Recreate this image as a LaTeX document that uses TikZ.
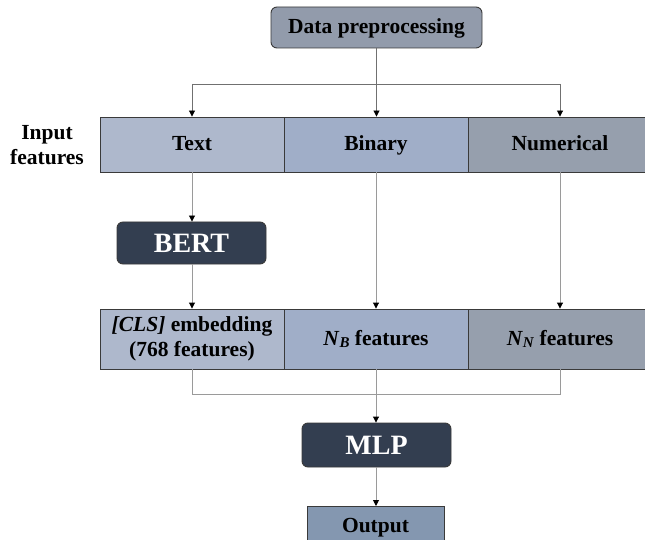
\documentclass[tikz,border=0pt]{standalone}
\usepackage{fontspec}
\setmainfont{Liberation Serif}
\usetikzlibrary{arrows.meta}
\definecolor{preC}{HTML}{929BAB}
\definecolor{txtC}{HTML}{AEB8CC}
\definecolor{binC}{HTML}{A0AEC8}
\definecolor{numC}{HTML}{969FAD}
\definecolor{darkC}{HTML}{333E50}
\definecolor{outC}{HTML}{8497B0}
\definecolor{edgeC}{HTML}{3A3A3A}
\definecolor{lineA}{HTML}{707070}
\definecolor{lineB}{HTML}{9A9A9A}
\tikzset{
  base/.style={font=\fontsize{21.5}{25}\selectfont\bfseries, draw=edgeC, line width=0.9pt, inner sep=0pt, align=center},
  oneline/.style={text height=16pt, text depth=4pt},
  cell/.style={base, rectangle, minimum width=184pt},
  row1/.style={cell, oneline, minimum height=55pt},
  row2/.style={cell, minimum height=60pt},
  rbox/.style={base, oneline, rounded corners=6pt},
  dbox/.style={rbox, fill=darkC, text=white, font=\fontsize{28}{30}\selectfont\bfseries, minimum width=149pt, text height=20pt, text depth=1.5pt},
  conn/.style={draw=lineB, line width=0.9pt},
  connA/.style={draw=lineA, line width=0.9pt},
  arr/.style={conn, -{Triangle[length=6pt,width=6pt,color=black]}},
  arrA/.style={connA, -{Triangle[length=6pt,width=6pt,color=black]}},
}
\newcommand{\subit}[1]{\textit{N}\raisebox{-0.3ex}{\fontsize{15}{15}\selectfont\textit{#1}}}
\begin{document}
\begin{tikzpicture}[x=1pt,y=-1pt]
\useasboundingbox (0,0) rectangle (645,540);
\clip (0,0) rectangle (645,540);
% nodes
\node[rbox, fill=preC, minimum width=211pt, minimum height=41pt] (pre) at (376.5,27.5) {Data preprocessing};
\node[font=\fontsize{21.5}{25}\selectfont\bfseries, align=center] (inlab) at (47,145) {Input\\features};
\node[row1, fill=txtC] (txt) at (192,144.5) {Text};
\node[row1, fill=binC] (bin) at (376,144.5) {Binary};
\node[row1, fill=numC] (num) at (560,144.5) {Numerical};
\node[dbox, minimum height=42pt] (bert) at (191.5,243) {BERT};
\node[row2, fill=txtC] (cls) at (192,339) {\textit{[CLS]} embedding\\(768 features)};
\node[row2, oneline, fill=binC] (nb) at (376,339) {\subit{B} features};
\node[row2, oneline, fill=numC] (nn) at (560,339) {\subit{N} features};
\node[dbox, minimum height=44pt] (mlp) at (376.5,445) {MLP};
\node[base, oneline, fill=outC, minimum width=137pt, minimum height=40pt, anchor=north] (out) at (375.5,506) {Output};
% coordinates
\coordinate (top) at (376,84);
\coordinate (bot) at (376,394.5);
% upper connectors
\draw[connA] (top -| txt.north) -- (top -| num.north);
\draw[arrA] (top -| txt.north) -- (txt.north);
\draw[arrA] (top -| num.north) -- (num.north);
\draw[arrA] (pre.south) -- (pre.south |- bin.north);
% middle connectors
\draw[arr] (txt.south) -- (txt.south |- bert.north);
\draw[arr] (txt.south |- bert.south) -- (txt.south |- cls.north);
\draw[arr] (bin.south) -- (nb.north);
\draw[arr] (num.south) -- (nn.north);
% lower connectors
\draw[conn] (cls.south) -- (cls.south |- bot) -- (nn.south |- bot) -- (nn.south);
\draw[arr] (nb.south) -- (nb.south |- mlp.north);
\draw[arr] (nb.south |- mlp.south) -- (nb.south |- out.north);
\end{tikzpicture}
\end{document}
